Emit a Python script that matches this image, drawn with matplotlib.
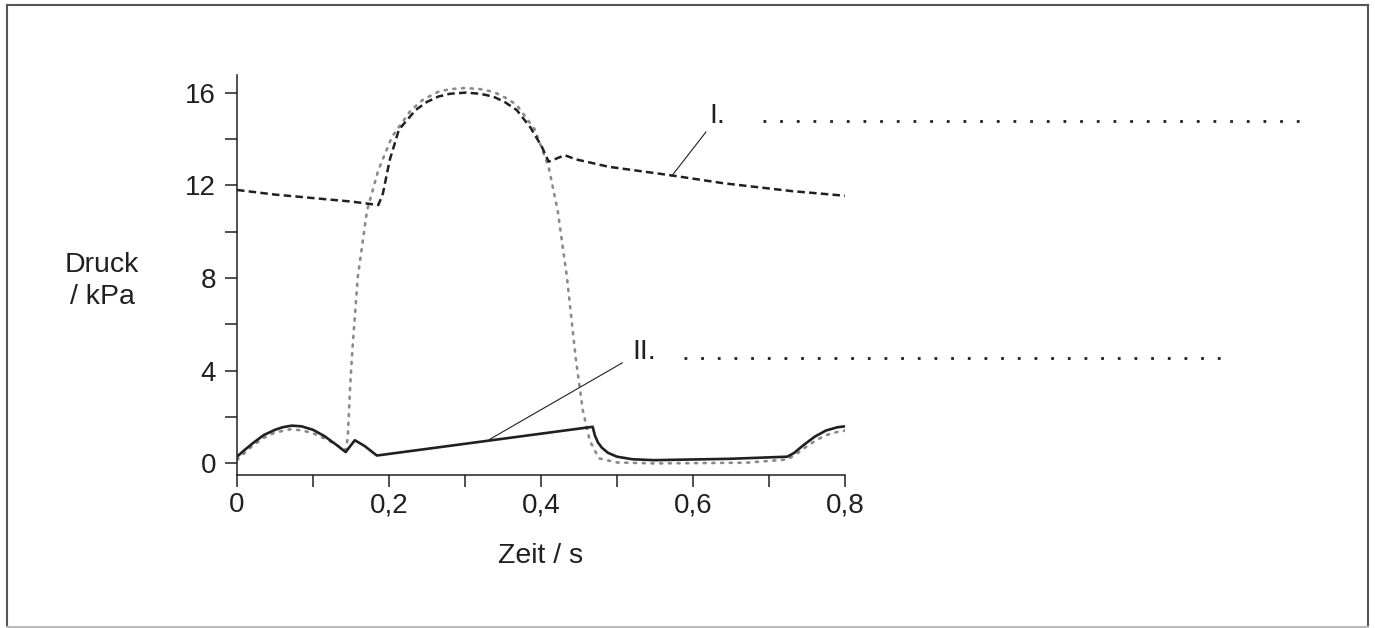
import matplotlib
matplotlib.use("Agg")
from matplotlib import pyplot as plt
from matplotlib.lines import Line2D

plt.rcParams['font.family'] = ['Liberation Sans', 'DejaVu Sans']

# Aortendruck (I.), gestrichelt
t_aorta = [0.0, 0.05, 0.10, 0.15, 0.186, 0.192, 0.201, 0.213, 0.235, 0.25, 0.265,
           0.28, 0.301, 0.32, 0.337, 0.352, 0.368, 0.386, 0.401, 0.410, 0.420,
           0.431, 0.446, 0.489, 0.567, 0.640, 0.730, 0.800]
p_aorta = [11.8, 11.6, 11.45, 11.3, 11.15, 11.65, 13.1, 14.4, 15.25, 15.6, 15.83,
           15.95, 16.0, 15.95, 15.83, 15.6, 15.25, 14.5, 13.67, 13.02, 13.15,
           13.3, 13.12, 12.8, 12.45, 12.09, 11.75, 11.55]

# Ventrikeldruck, grau gepunktet
t_vent = [0.0, 0.01, 0.02, 0.035, 0.05, 0.07, 0.085, 0.10, 0.115, 0.13, 0.14,
          0.144, 0.146, 0.149, 0.152, 0.159, 0.171, 0.186, 0.204, 0.229, 0.245,
          0.265, 0.28, 0.301, 0.32, 0.337, 0.355, 0.368, 0.392, 0.410, 0.422,
          0.434, 0.446, 0.455, 0.464, 0.476, 0.500, 0.549, 0.670, 0.724, 0.735,
          0.749, 0.762, 0.775, 0.790, 0.800]
p_vent = [0.15, 0.45, 0.75, 1.1, 1.33, 1.47, 1.43, 1.3, 1.08, 0.82, 0.62,
          0.6, 1.3, 3.4, 5.0, 8.06, 10.9, 12.66, 14.1, 15.25, 15.7,
          16.04, 16.15, 16.2, 16.15, 16.04, 15.75, 15.47, 14.4, 12.8, 10.9,
          8.06, 4.46, 2.3, 1.0, 0.22, 0.04, 0.0, 0.03, 0.17, 0.38,
          0.72, 1.0, 1.22, 1.36, 1.41]

# Vorhofdruck (II.), durchgezogen
t_atrium = [0.0, 0.01, 0.02, 0.035, 0.05, 0.06, 0.072, 0.085, 0.10, 0.115, 0.13,
            0.143, 0.155, 0.168, 0.184, 0.468, 0.471, 0.475, 0.480, 0.488, 0.500,
            0.520, 0.549, 0.650, 0.724, 0.733, 0.745, 0.760, 0.775, 0.790, 0.800]
p_atrium = [0.29, 0.58, 0.85, 1.22, 1.45, 1.56, 1.63, 1.6, 1.45, 1.18, 0.82,
            0.49, 1.0, 0.75, 0.34, 1.58, 1.2, 0.9, 0.68, 0.46, 0.29,
            0.18, 0.14, 0.2, 0.29, 0.45, 0.78, 1.15, 1.42, 1.56, 1.6]

x_ticks = [0.0, 0.2, 0.4, 0.6, 0.8]
x_labels = ['0', '0,2', '0,4', '0,6', '0,8']
x_minor = [0.1, 0.3, 0.5, 0.7]
y_ticks = [0, 4, 8, 12, 16]
y_minor = [2, 6, 10, 14]

ink = '#231f20'

fig = plt.figure(figsize=(13.75, 6.28), dpi=100)
ax = fig.add_axes([237 / 1375, (628 - 475) / 628, 608 / 1375, 400 / 628])

ax.plot(t_vent, p_vent, color='#8a8a8a', lw=1.9, linestyle=(0, (0.8, 2.5)),
        dash_capstyle='round')
ax.plot(t_aorta, p_aorta, color=ink, lw=1.8, linestyle=(0, (3.0, 1.7)))
ax.plot(t_atrium, p_atrium, color=ink, lw=1.9, solid_joinstyle='round')

# Beschriftungen I. und II. mit Hinweislinien
ax.plot([0.617, 0.572], [14.30, 12.40], color=ink, lw=0.8)
ax.plot([0.507, 0.332], [4.34, 1.03], color=ink, lw=0.8)
ax.text(0.622, 14.70, 'I.', fontsize=20.5, color=ink, va='baseline', clip_on=False)
ax.text(0.520, 4.50, 'II.', fontsize=20.5, color=ink, va='baseline', clip_on=False)
ax.plot([0.692, 1.408], [14.76, 14.76], color=ink, lw=2.0,
        linestyle=(0, (1, 5.0)), clip_on=False)
ax.plot([0.588, 1.304], [4.56, 4.56], color=ink, lw=2.0,
        linestyle=(0, (1, 5.0)), clip_on=False)

ax.set_xlim(0, 0.8)
ax.set_ylim(-0.5, 16.76)
for side in ['top', 'right']:
    ax.spines[side].set_visible(False)
for side in ['left', 'bottom']:
    ax.spines[side].set_linewidth(1.1)
    ax.spines[side].set_color(ink)

ax.set_xticks(x_ticks)
ax.set_xticklabels(x_labels)
ax.set_xticks(x_minor, minor=True)
ax.set_yticks(y_ticks)
ax.set_yticks(y_minor, minor=True)
ax.tick_params(which='both', direction='out', length=8.5, width=1.1, color=ink,
               labelsize=20, labelcolor=ink)
ax.tick_params(axis='x', which='both', pad=4)
ax.tick_params(axis='y', which='both', pad=6.5)

fig.text(102 / 1375, 1 - 281 / 628, 'Druck\n/ kPa', fontsize=20.5, color=ink,
         ha='center', va='center', linespacing=1.25)
fig.text(541 / 1375, 1 - 556 / 628, 'Zeit / s', fontsize=20.5, color=ink,
         ha='center', va='center')

# Rahmen um die Abbildung
W, H = 1375, 628
x0, x1, y0, y1 = 7 / W, 1368 / W, 1 - 5 / H, 1 - 627 / H
for xs, ys, c in [([x0, x0], [y0, y1], '#555555'), ([x1, x1], [y0, y1], '#555555'),
                  ([x0, x1], [y0, y0], '#555555'), ([x0, x1], [y1, y1], '#bbbbbb')]:
    fig.add_artist(Line2D(xs, ys, color=c, lw=1.5, transform=fig.transFigure))

fig.savefig('out.png', dpi=100)
